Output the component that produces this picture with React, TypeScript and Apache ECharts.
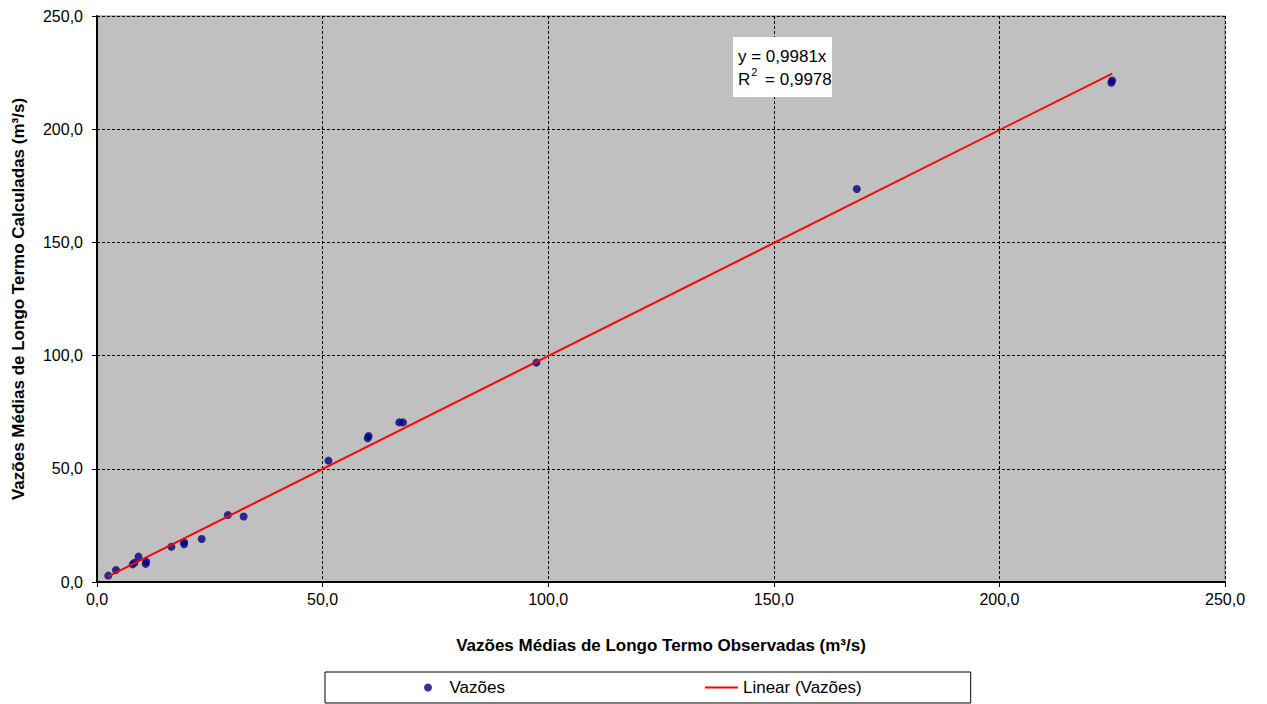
import React, { useEffect, useRef } from "react";
import * as echarts from "echarts";

// Observed vs. calculated long-term mean flows (m³/s)
const observed: number[] = [
  2.5, 4.2, 7.9, 8.3, 9.2, 10.8, 10.9, 16.5, 19.3, 19.3, 23.2, 29.0, 32.5,
  51.3, 60.0, 60.2, 67.0, 67.8, 97.4, 168.4, 224.8, 225.0,
];
const calculated: number[] = [
  2.8, 5.3, 7.8, 8.5, 11.2, 8.0, 9.0, 15.6, 16.7, 17.6, 19.0, 29.6, 28.9,
  53.6, 63.5, 64.5, 70.5, 70.5, 96.9, 173.6, 220.5, 221.5,
];

// Linear trend through the origin
const slope = 0.9981;
const rSquared = "0,9978";

const xTicks = [0, 50, 100, 150, 200, 250];
const yTicks = [0, 50, 100, 150, 200, 250];

const FONT = "'Liberation Sans', Arial, sans-serif";
const fmt = (v: number) => v.toFixed(1).replace(".", ",");

export default function App() {
  const ref = useRef<HTMLDivElement>(null);

  useEffect(() => {
    if (!ref.current) return;
    const chart = echarts.init(ref.current, undefined, { renderer: "svg" });
    const points = observed.map((x, i) => [x, calculated[i]]);
    const xMin = Math.min(...observed);
    const xMax = Math.max(...observed);
    const trend = [
      [xMin, slope * xMin],
      [xMax, slope * xMax],
    ];

    chart.setOption({
      animation: false,
      backgroundColor: "#ffffff",
      textStyle: { fontFamily: FONT },
      grid: {
        left: 97,
        right: 42,
        top: 16,
        bottom: 122,
        show: true,
        backgroundColor: "#C0C0C0",
        borderColor: "#808080",
        borderWidth: 1,
      },
      xAxis: {
        type: "value",
        min: xTicks[0],
        max: xTicks[xTicks.length - 1],
        interval: 50,
        name: "Vazões Médias de Longo Termo Observadas (m³/s)",
        nameLocation: "middle",
        nameGap: 55,
        nameTextStyle: { fontSize: 17, fontWeight: "bold", color: "#000", fontFamily: FONT },
        axisLine: { lineStyle: { color: "#000", width: 2 } },
        axisTick: { show: true, length: 5, lineStyle: { color: "#000", width: 1 } },
        axisLabel: { formatter: fmt, fontSize: 16, color: "#000", margin: 9, fontFamily: FONT },
        splitLine: { show: true, lineStyle: { color: "#000", type: [3, 2], width: 1 } },
      },
      yAxis: {
        type: "value",
        min: yTicks[0],
        max: yTicks[yTicks.length - 1],
        interval: 50,
        name: "Vazões Médias de Longo Termo Calculadas (m³/s)",
        nameLocation: "middle",
        nameGap: 70,
        nameTextStyle: { fontSize: 17, fontWeight: "bold", color: "#000", fontFamily: FONT },
        axisLine: { show: true, lineStyle: { color: "#000", width: 2 } },
        axisTick: { show: true, length: 5, lineStyle: { color: "#000", width: 1 } },
        axisLabel: { formatter: fmt, fontSize: 16, color: "#000", margin: 14, fontFamily: FONT },
        splitLine: { show: true, lineStyle: { color: "#000", type: [3, 2], width: 1 } },
      },
      legend: {
        left: 325,
        top: 672,
        orient: "horizontal",
        borderColor: "#000",
        borderWidth: 1,
        padding: [7, 109, 7, 99],
        itemGap: 200,
        itemWidth: 33,
        itemHeight: 8,
        textStyle: { fontSize: 17, color: "#000", fontFamily: FONT },
        data: [
          { name: "Vazões", icon: "circle" },
          { name: "Linear (Vazões)", icon: "path://M0 0H33V2H0Z" },
        ],
      },
      series: [
        {
          name: "Vazões",
          type: "scatter",
          data: points,
          symbol: "circle",
          symbolSize: 8,
          itemStyle: { color: "#000080" },
          z: 3,
        },
        {
          name: "Linear (Vazões)",
          type: "line",
          data: trend,
          symbol: "none",
          showSymbol: false,
          lineStyle: { color: "#FF0000", width: 2 },
          itemStyle: { color: "#FF0000" },
          z: 4,
        },
      ],
      graphic: [
        {
          type: "rect",
          left: 733,
          top: 37,
          shape: { width: 99, height: 60 },
          style: { fill: "#ffffff" },
          z: 10,
        },
        {
          type: "text",
          left: 738,
          top: 48,
          style: { text: `y = ${slope.toFixed(4).replace(".", ",")}x`, fontSize: 17, fill: "#000", fontFamily: FONT },
          z: 11,
        },
        {
          type: "text",
          left: 738,
          top: 66,
          style: {
            text: `{b|R}{s|2}{b| = ${rSquared}}`,
            rich: {
              b: { fontSize: 17, fill: "#000", fontFamily: FONT, verticalAlign: "bottom", lineHeight: 22 },
              s: { fontSize: 11, fill: "#000", fontFamily: FONT, verticalAlign: "top", lineHeight: 22, padding: [0, 3, 10, 1] },
            },
          },
          z: 11,
        },
      ],
    });

    return () => chart.dispose();
  }, []);

  return (
    <div
      ref={ref}
      style={{ position: "absolute", left: 0, top: 0, width: 1267, height: 704 }}
    />
  );
}
